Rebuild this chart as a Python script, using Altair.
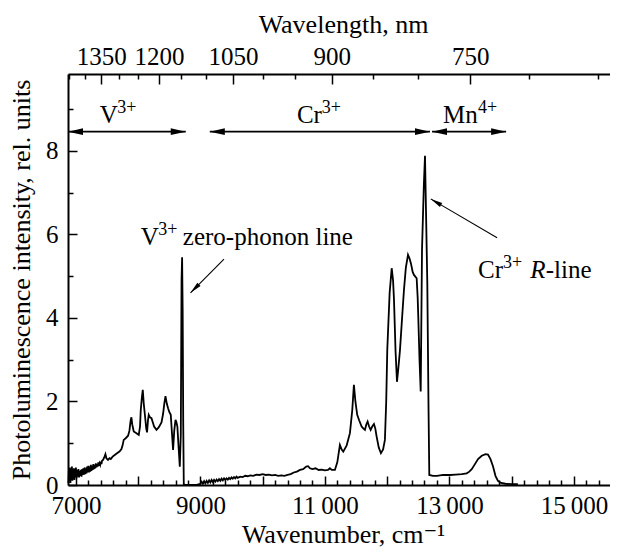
import math
import altair as alt
import pandas as pd

FONT = "'Liberation Serif', 'Times New Roman', Times, 'DejaVu Serif', serif"

# ---------------- spectrum (wavenumber, cm^-1 ; intensity, rel. units) ----------------
v_wn = [6880, 6888, 6896, 6904, 6912, 6920, 6928, 6936, 6944, 6952, 6960, 6968, 6976, 6984,
        6992, 7000, 7010, 7020, 7030, 7040, 7050, 7060, 7070, 7080, 7090, 7100, 7110, 7120,
        7130, 7140, 7150, 7160, 7170, 7180, 7190, 7200, 7210, 7220, 7230, 7240, 7250, 7260,
        7270, 7280, 7290, 7300, 7310, 7320, 7330, 7340, 7350, 7360, 7370, 7380, 7390, 7400,
        7410, 7420, 7436, 7455, 7474, 7490, 7516, 7540, 7560, 7590, 7624, 7660, 7700, 7732,
        7750, 7768, 7800, 7838, 7860, 7880, 7892, 7905, 7929, 7973, 8010, 8030, 8042, 8060,
        8074, 8090, 8111, 8130, 8143, 8158, 8170, 8190, 8214, 8235, 8256, 8294, 8330, 8375,
        8400, 8420, 8439, 8460, 8481, 8500, 8524, 8545, 8561, 8580, 8600, 8615, 8630, 8650,
        8669, 8685, 8697, 8706, 8715, 8724, 8733, 8760, 8850, 8950]
v_I = [0.05, 0.38, 0.12, 0.42, 0.05, 0.35, 0.15, 0.44, 0.10, 0.38, 0.18, 0.40, 0.12, 0.36,
       0.20, 0.42, 0.16, 0.36, 0.20, 0.38, 0.18, 0.34, 0.22, 0.36, 0.20, 0.38, 0.24, 0.40,
       0.25, 0.42, 0.26, 0.40, 0.28, 0.44, 0.30, 0.46, 0.30, 0.44, 0.32, 0.48, 0.34, 0.46,
       0.36, 0.50, 0.38, 0.48, 0.40, 0.52, 0.42, 0.50, 0.44, 0.54, 0.46, 0.52, 0.48, 0.56,
       0.50, 0.58, 0.60, 0.66, 0.74, 0.64, 0.60, 0.64, 0.62, 0.68, 0.72, 0.76, 0.80, 0.86,
       0.95, 1.08, 1.12, 1.18, 1.30, 1.55, 1.62, 1.45, 1.28, 1.24, 1.20, 1.40, 1.80, 2.10,
       2.28, 1.95, 1.64, 1.35, 1.26, 1.55, 1.68, 1.62, 1.60, 1.50, 1.40, 1.32, 1.38, 1.50,
       1.70, 1.95, 2.13, 1.95, 1.84, 1.75, 1.68, 1.20, 0.84, 1.30, 1.56, 1.50, 1.40, 0.90,
       0.44, 1.20, 4.90, 5.45, 4.20, 1.50, 0.02, 0.00, 0.00, 0.01]

mid_wn = [9000, 9020, 9040, 9060, 9080, 9100, 9120, 9140, 9160, 9180, 9200, 9220, 9240, 9260,
          9280, 9300, 9320, 9340, 9360, 9380, 9400, 9420, 9440, 9460, 9480, 9500, 9520, 9540,
          9560, 9580, 9600, 9640, 9680, 9720, 9760, 9800, 9850, 9900, 9950, 10000, 10050,
          10100, 10150, 10200, 10250, 10300, 10350, 10400, 10450, 10500, 10550, 10600, 10650,
          10700, 10730, 10760, 10800, 10850, 10900, 10950, 11000, 11050, 11080, 11110, 11161]
mid_I = [0.03, 0.08, 0.03, 0.09, 0.04, 0.10, 0.05, 0.11, 0.06, 0.12, 0.07, 0.12, 0.08, 0.13,
         0.09, 0.14, 0.10, 0.15, 0.11, 0.16, 0.12, 0.16, 0.13, 0.17, 0.14, 0.18, 0.15, 0.19,
         0.16, 0.20, 0.17, 0.20, 0.19, 0.22, 0.21, 0.23, 0.22, 0.25, 0.24, 0.26, 0.24,
         0.25, 0.23, 0.24, 0.22, 0.23, 0.22, 0.24, 0.26, 0.30, 0.32, 0.36, 0.38,
         0.44, 0.45, 0.40, 0.38, 0.40, 0.36, 0.37, 0.35, 0.36, 0.40, 0.36, 0.36]

cr_wn = [11200, 11241, 11270, 11295, 11350, 11402, 11440, 11466, 11490, 11519, 11550, 11590,
         11620, 11643, 11665, 11686, 11710, 11735, 11760, 11788, 11810, 11831, 11865, 11900,
         11935, 11964, 11985, 12002, 12040, 12073, 12095, 12110, 12135, 12158, 12180, 12206,
         12240, 12270, 12300, 12335, 12360, 12383, 12410, 12431, 12474, 12490, 12500, 12520,
         12539, 12560, 12590, 12608, 12625, 12645, 12665, 12677, 12736, 12800, 12900, 13010,
         13100, 13200, 13278, 13320, 13359, 13410, 13460, 13520, 13580, 13620, 13660, 13700,
         13740, 13780, 13830, 13900, 14000, 14100]
cr_I = [0.55, 0.96, 0.85, 0.80, 0.95, 1.24, 1.80, 2.40, 2.00, 1.68, 1.55, 1.40,
        1.35, 1.32, 1.45, 1.52, 1.40, 1.32, 1.40, 1.46, 1.35, 1.16, 0.90, 0.76,
        0.85, 1.08, 2.00, 3.23, 4.60, 5.19, 4.90, 4.43, 3.20, 2.47, 2.80, 3.23,
        4.00, 4.67, 5.20, 5.51, 5.42, 5.30, 5.10, 5.03, 4.95, 4.50, 4.03, 3.00,
        2.24, 5.63, 7.20, 7.88, 6.50, 4.84, 1.80, 0.24, 0.22, 0.22, 0.24, 0.24,
        0.25, 0.26, 0.28, 0.32, 0.38, 0.50, 0.62, 0.70, 0.74, 0.73, 0.62, 0.45,
        0.22, 0.10, 0.05, 0.03, 0.02, 0.02]

# ---------------- axes ----------------
XDOM = [6873, 15580]
YDOM = [0, 9.84]
x_major = list(range(7000, 15001, 1000))
x_minor = [v for v in range(7200, 15401, 200) if v % 1000 != 0]
wl_major = [1350, 1200, 1050, 900, 750]
wl_minor = [1450, 1400, 1300, 1250, 1150, 1100, 1000, 950, 850, 800, 700, 650]
y_major = [0, 2, 4, 6, 8]
y_minor = [1, 3, 5, 7, 9]

# ---------------- annotations ----------------
range_start = [6873, 9151, 12721]
range_end = [8765, 12688, 13911]
range_level = [8.46, 8.46, 8.46]

pointer_from_wn = [9379, 13766]
pointer_from_I = [5.41, 5.92]
pointer_to_wn = [8841, 12700]
pointer_to_I = [4.60, 6.85]

main_text = ["V", "Cr", "Mn", "V", "zero-phonon line", "Cr", "-line"]
main_wn = [7383, 10550, 12897, 8042, 8718, 13460, 14548]
main_I = [8.67, 8.67, 8.67, 5.75, 5.75, 4.96, 4.96]

sup_text = ["3+", "3+", "4+", "3+", "3+"]
sup_wn = [7665, 10950, 13460, 8324, 13862]
sup_I = [8.67, 8.67, 8.67, 5.75, 4.96]

ital_text = ["R"]
ital_wn = [14299]
ital_I = [4.96]

W, H = 542, 411

spec = pd.DataFrame({"wn": v_wn + mid_wn + cr_wn, "I": v_I + mid_I + cr_I})

xscale = alt.Scale(domain=XDOM, nice=False, zero=False)
yscale = alt.Scale(domain=YDOM, nice=False, zero=False)

common = dict(grid=False, domainColor="black", tickColor="black", tickWidth=1.5,
              labelFont=FONT, labelFontSize=25, labelColor="black", labelFlush=False,
              labelOverlap=False, titleFont=FONT, titleFontSize=26, titleColor="black",
              titleFontWeight="normal")

ax_bottom = alt.Axis(orient="bottom", values=x_major, domainWidth=2,
                     tickSize={"expr": "-9"}, labelPadding=17,
                     labelExpr="datum.value % 2000 == 1000 ? (datum.value < 10000 ? format(datum.value, 'd') : replace(format(datum.value, ','), ',', '\u2009')) : ''",
                     title="Wavenumber, cm\u207b\u00b9", titleX=275, titleY=57,
                     titleAlign="center", titleBaseline="alphabetic", **common)
ax_bottom_minor = alt.Axis(orient="bottom", values=x_minor, domain=False, labels=False,
                           tickSize={"expr": "-5"}, title=None, **common)
ax_top = alt.Axis(orient="top", values=[1e7 / l for l in wl_major], domainWidth=2,
                  tickSize={"expr": "-10"}, labelPadding=15,
                  labelExpr="format(1e7 / datum.value, 'd')",
                  title="Wavelength, nm", titleX=275, titleY=-42, titleAlign="center",
                  titleBaseline="alphabetic", **common)
ax_top_minor = alt.Axis(orient="top", values=[1e7 / l for l in wl_minor], domain=False,
                        labels=False, tickSize={"expr": "-5"}, title=None, **common)
ax_left = alt.Axis(orient="left", values=y_major, domainWidth=2, tickSize={"expr": "-9"},
                   labelPadding=19, title="Photoluminescence intensity, rel. units",
                   titleX=-39, titleY=H / 2, titleAlign="center", titleBaseline="alphabetic",
                   titleAngle=270, **common)
ax_left_minor = alt.Axis(orient="left", values=y_minor, domain=False, labels=False,
                         tickSize={"expr": "-5"}, title=None, **common)

line = alt.Chart(spec).mark_line(color="black", strokeWidth=1.8).encode(
    x=alt.X("wn:Q", scale=xscale, axis=ax_bottom),
    y=alt.Y("I:Q", scale=yscale, axis=ax_left),
    order="wn:Q",
)

def x_axis_layer(vals, axis):
    return alt.Chart(pd.DataFrame({"wn": vals})).mark_point(opacity=0).encode(
        x=alt.X("wn:Q", scale=xscale, axis=axis))

def y_axis_layer(vals, axis):
    return alt.Chart(pd.DataFrame({"I": vals})).mark_point(opacity=0).encode(
        y=alt.Y("I:Q", scale=yscale, axis=axis))

l_bminor = x_axis_layer(x_minor, ax_bottom_minor)
l_top = x_axis_layer([1e7 / l for l in wl_major], ax_top)
l_tminor = x_axis_layer([1e7 / l for l in wl_minor], ax_top_minor)
l_lminor = y_axis_layer(y_minor, ax_left_minor)

# range arrows
rng = pd.DataFrame({"a": range_start, "b": range_end, "y": range_level})
rules = alt.Chart(rng).mark_rule(color="black", strokeWidth=1.6).encode(
    x=alt.X("a:Q", scale=xscale, axis=None), x2="b:Q",
    y=alt.Y("y:Q", scale=yscale, axis=None))

HEAD = "M0,0L-2,-0.45L-2,0.45Z"
heads = pd.DataFrame({
    "hx": range_start + range_end,
    "hy": range_level + range_level,
    "ang": [180] * len(range_start) + [0] * len(range_end),
})
head_layer = alt.Chart(heads).mark_point(shape=HEAD, size=225, filled=True, color="black",
                                         opacity=1, strokeWidth=0).encode(
    x=alt.X("hx:Q", scale=xscale, axis=None),
    y=alt.Y("hy:Q", scale=yscale, axis=None),
    angle=alt.Angle("ang:Q", scale=None))

# pointer arrows
px_w = W / (XDOM[1] - XDOM[0])
px_h = H / (YDOM[1] - YDOM[0])
p_ang = [math.degrees(math.atan2(-(t_i - f_i) * px_h, (t_w - f_w) * px_w)) % 360
         for f_w, f_i, t_w, t_i in zip(pointer_from_wn, pointer_from_I, pointer_to_wn, pointer_to_I)]
ptr = pd.DataFrame({"x0": pointer_from_wn, "y0": pointer_from_I,
                    "x1": pointer_to_wn, "y1": pointer_to_I, "ang": p_ang})
ptr_lines = alt.Chart(ptr).mark_rule(color="black", strokeWidth=1.1).encode(
    x=alt.X("x0:Q", scale=xscale, axis=None), x2="x1:Q",
    y=alt.Y("y0:Q", scale=yscale, axis=None), y2="y1:Q")
ptr_heads = alt.Chart(ptr).mark_point(shape="M0,0L-2,-0.38L-2,0.38Z", size=144, filled=True,
                                      color="black", opacity=1, strokeWidth=0).encode(
    x=alt.X("x1:Q", scale=xscale, axis=None),
    y=alt.Y("y1:Q", scale=yscale, axis=None),
    angle=alt.Angle("ang:Q", scale=None))

# texts
def text_layer(txt, xs_, ys_, **kw):
    df = pd.DataFrame({"t": txt, "tx": xs_, "ty": ys_})
    return alt.Chart(df).mark_text(font=FONT, color="black", align="left",
                                   baseline="alphabetic", **kw).encode(
        x=alt.X("tx:Q", scale=xscale, axis=None),
        y=alt.Y("ty:Q", scale=yscale, axis=None),
        text="t:N")

t_main = text_layer(main_text, main_wn, main_I, fontSize=25)
t_sup = text_layer(sup_text, sup_wn, sup_I, fontSize=18, dy=-10)
t_ital = text_layer(ital_text, ital_wn, ital_I, fontSize=25, fontStyle="italic")

chart = alt.layer(
    line, l_bminor, l_top, l_tminor, l_lminor, rules, head_layer, ptr_lines, ptr_heads,
    t_main, t_sup, t_ital
).resolve_axis(x="independent", y="independent").properties(
    width=W, height=H,
    padding={"left": 60, "top": 66, "right": 0, "bottom": 62},
    autosize=alt.AutoSizeParams(type="none"),
).configure_view(stroke=None).configure(background="white")

chart.save("out.html", embed_options={"renderer": "svg", "actions": False})
